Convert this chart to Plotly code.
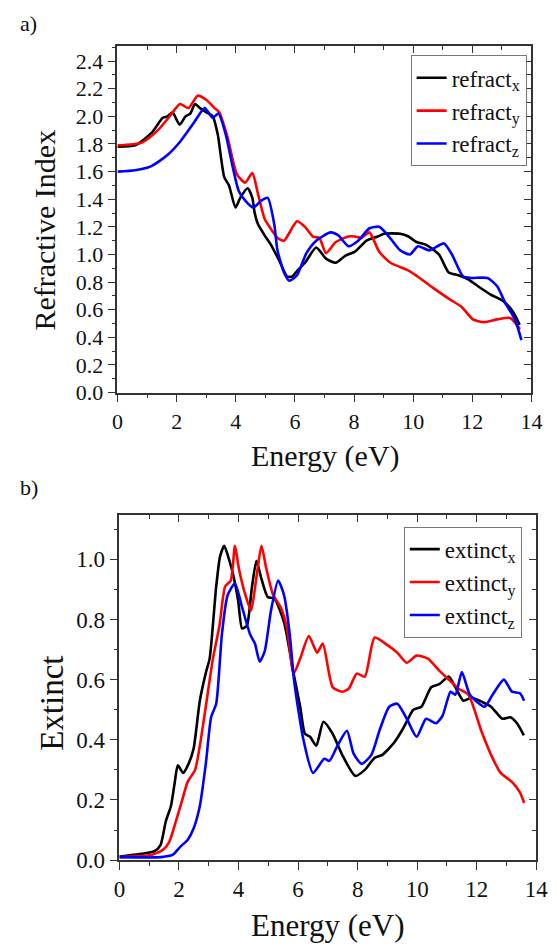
import plotly.graph_objects as go

# ---------------- data: refractive index (panel a) ----------------
refract_x_E = [0, 0.6, 1.15, 1.53, 1.69, 1.86, 2.10, 2.30, 2.46, 2.62, 2.79, 3.0, 3.22, 3.39, 3.61, 3.77,
               3.99, 4.15, 4.40, 4.56, 4.64, 4.75, 4.97, 5.19, 5.46, 5.74, 5.90, 6.07, 6.34, 6.72, 7.05,
               7.38, 7.70, 8.03, 8.42, 8.80, 9.02, 9.56, 9.84, 10.11, 10.44, 10.87, 11.20, 11.53, 11.86,
               12.19, 12.62, 13.06, 13.39, 13.6]
refract_x_val = [1.78, 1.79, 1.88, 1.99, 2.00, 2.03, 1.94, 2.00, 2.02, 2.09, 2.06, 2.03, 2.00, 1.87, 1.56, 1.50,
                 1.34, 1.41, 1.48, 1.41, 1.30, 1.22, 1.14, 1.07, 0.96, 0.84, 0.84, 0.88, 0.94, 1.05, 0.97,
                 0.94, 0.99, 1.02, 1.10, 1.13, 1.15, 1.15, 1.13, 1.09, 1.07, 1.00, 0.87, 0.85, 0.82,
                 0.77, 0.71, 0.66, 0.58, 0.49]

refract_y_E = [0, 0.82, 1.37, 1.80, 2.11, 2.40, 2.71, 3.0, 3.28, 3.44, 3.72, 4.04, 4.32, 4.56, 4.75, 4.97,
               5.08, 5.41, 5.63, 6.07, 6.34, 6.61, 6.83, 7.05, 7.38, 7.81, 8.03, 8.25, 8.52, 8.85, 9.23,
               9.78, 10.22, 10.66, 11.20, 11.64, 12.02, 12.40, 12.84, 13.28, 13.61]
refract_y_val = [1.79, 1.81, 1.90, 2.01, 2.09, 2.06, 2.15, 2.12, 2.06, 2.03, 1.85, 1.58, 1.52, 1.59, 1.44, 1.26,
                 1.22, 1.12, 1.10, 1.24, 1.20, 1.13, 1.12, 1.01, 1.09, 1.13, 1.13, 1.12, 1.16, 1.02, 0.94,
                 0.89, 0.83, 0.76, 0.68, 0.62, 0.53, 0.51, 0.53, 0.54, 0.46]

refract_z_E = [0, 0.6, 1.15, 1.69, 2.13, 2.57, 2.95, 3.22, 3.41, 3.66, 3.88, 4.10, 4.32, 4.59, 4.86, 5.08,
               5.30, 5.41, 5.63, 5.81, 6.07, 6.39, 6.72, 7.21, 7.46, 7.81, 8.14, 8.52, 8.85, 9.18, 9.56,
               9.89, 10.16, 10.55, 11.04, 11.31, 11.69, 11.97, 12.51, 12.84, 13.11, 13.44, 13.66]
refract_z_val = [1.60, 1.61, 1.64, 1.72, 1.82, 1.95, 2.06, 1.99, 2.02, 1.87, 1.65, 1.46, 1.39, 1.34, 1.39, 1.41,
                 1.22, 1.03, 0.87, 0.81, 0.85, 1.01, 1.10, 1.16, 1.14, 1.06, 1.10, 1.19, 1.20, 1.13, 1.03,
                 1.00, 1.06, 1.03, 1.08, 1.00, 0.84, 0.83, 0.83, 0.77, 0.65, 0.53, 0.38]

# ---------------- data: extinction (panel b) ----------------
extinct_x_E = [0, 0.86, 1.18, 1.38, 1.56, 1.73, 1.86, 1.96, 2.14, 2.32, 2.49, 2.70, 2.92, 3.03, 3.25, 3.38,
               3.52, 3.68, 3.84, 3.99, 4.12, 4.28, 4.44, 4.60, 4.77, 4.98, 5.20, 5.53, 5.85, 6.07, 6.23,
               6.40, 6.61, 6.85, 7.16, 7.48, 7.92, 8.24, 8.57, 8.83, 9.22, 9.54, 9.87, 10.14, 10.47, 10.74,
               11.06, 11.28, 11.55, 11.83, 12.20, 12.48, 12.86, 13.13, 13.35, 13.58]
extinct_x_val = [0.012, 0.023, 0.03, 0.05, 0.13, 0.18, 0.26, 0.315, 0.29, 0.32, 0.37, 0.53, 0.63, 0.67, 0.91, 1.01,
                 1.045, 1.0, 0.94, 0.86, 0.77, 0.78, 0.90, 0.995, 0.935, 0.875, 0.87, 0.79, 0.62, 0.51, 0.42,
                 0.41, 0.38, 0.46, 0.42, 0.35, 0.28, 0.30, 0.34, 0.35, 0.39, 0.44, 0.50, 0.51, 0.575, 0.585,
                 0.61, 0.575, 0.53, 0.54, 0.525, 0.51, 0.47, 0.475, 0.455, 0.415]

extinct_y_E = [0, 1.07, 1.46, 1.67, 1.89, 2.11, 2.29, 2.54, 2.70, 2.87, 3.14, 3.36, 3.55, 3.74, 3.88, 4.01,
               4.22, 4.42, 4.60, 4.77, 4.93, 5.15, 5.42, 5.63, 5.85, 6.07, 6.36, 6.64, 6.83, 7.16, 7.48,
               7.70, 7.97, 8.24, 8.57, 9.0, 9.33, 9.65, 9.98, 10.36, 10.74, 11.06, 11.39, 11.72, 12.15,
               12.48, 12.80, 13.18, 13.45, 13.59]
extinct_y_val = [0.01, 0.017, 0.034, 0.06, 0.127, 0.20, 0.26, 0.30, 0.38, 0.49, 0.67, 0.78, 0.91, 0.93, 1.045, 0.97,
                 0.885, 0.83, 0.94, 1.045, 0.97, 0.885, 0.84, 0.77, 0.62, 0.67, 0.745, 0.69, 0.72, 0.575, 0.56,
                 0.57, 0.62, 0.61, 0.74, 0.715, 0.69, 0.656, 0.68, 0.67, 0.63, 0.60, 0.57, 0.55, 0.43,
                 0.35, 0.29, 0.26, 0.225, 0.19]

extinct_z_E = [0, 1.40, 1.78, 2.05, 2.29, 2.49, 2.70, 2.90, 3.08, 3.25, 3.44, 3.63, 3.88, 4.12, 4.39, 4.55,
               4.71, 4.88, 5.09, 5.33, 5.53, 5.72, 5.85, 5.96, 6.18, 6.50, 6.88, 7.05, 7.32, 7.64, 7.86,
               8.13, 8.46, 8.73, 9.06, 9.33, 9.65, 9.98, 10.30, 10.63, 10.85, 11.12, 11.28, 11.50, 11.77,
               12.26, 12.53, 12.91, 13.18, 13.45, 13.59]
extinct_z_val = [0.01, 0.01, 0.017, 0.045, 0.067, 0.105, 0.18, 0.32, 0.476, 0.52, 0.75, 0.88, 0.92, 0.84, 0.75, 0.72,
                 0.66, 0.695, 0.83, 0.93, 0.88, 0.75, 0.61, 0.53, 0.40, 0.29, 0.337, 0.33, 0.38, 0.43, 0.355,
                 0.32, 0.35, 0.43, 0.51, 0.52, 0.47, 0.41, 0.47, 0.455, 0.48, 0.56, 0.55, 0.625, 0.55,
                 0.51, 0.55, 0.60, 0.56, 0.555, 0.53]

series_a = [("refract<sub>x</sub>", refract_x_E, refract_x_val, "#000000"),
            ("refract<sub>y</sub>", refract_y_E, refract_y_val, "#ff0000"),
            ("refract<sub>z</sub>", refract_z_E, refract_z_val, "#0000ff")]
series_b = [("extinct<sub>x</sub>", extinct_x_E, extinct_x_val, "#000000"),
            ("extinct<sub>y</sub>", extinct_y_E, extinct_y_val, "#ff0000"),
            ("extinct<sub>z</sub>", extinct_z_E, extinct_z_val, "#0000ff")]

W, H = 558, 952
FONT = "Liberation Serif"

fig = go.Figure()
for name, xs, ys, col in series_a:
    fig.add_trace(go.Scatter(x=xs, y=ys, name=name, mode="lines",
                             line=dict(color=col, width=2.6, shape="spline", smoothing=0.6),
                             xaxis="x", yaxis="y", legend="legend"))
for name, xs, ys, col in series_b:
    fig.add_trace(go.Scatter(x=xs, y=ys, name=name, mode="lines",
                             line=dict(color=col, width=2.6, shape="spline", smoothing=0.6),
                             xaxis="x2", yaxis="y2", legend="legend2"))
# empty traces so the inward mirror-tick axes get drawn
fig.add_trace(go.Scatter(x=[], y=[], xaxis="x3", yaxis="y3", showlegend=False, hoverinfo="skip"))
fig.add_trace(go.Scatter(x=[], y=[], xaxis="x4", yaxis="y4", showlegend=False, hoverinfo="skip"))


def px_x(a, b):
    return [a / W, b / W]


def px_y(top, bottom):
    return [(H - bottom) / H, (H - top) / H]


axis_line = dict(showline=True, linecolor="#333333", linewidth=1.5, mirror=True, showgrid=False, zeroline=False)

xa_dom, ya_dom = px_x(115, 542), px_y(47, 398)
xb_dom, yb_dom = px_x(117, 547), px_y(522, 872)
yr_a = [0, 2.507]
yr_b = [0, 1.148]

fig.update_layout(
    width=W, height=H,
    margin=dict(l=0, r=0, t=0, b=0),
    paper_bgcolor="white", plot_bgcolor="white",
    font=dict(family=FONT, color="#111111"),
    showlegend=True,
    xaxis=dict(domain=xa_dom, anchor="y", range=[0, 14], dtick=2, ticks="outside", ticklen=8, tickwidth=1.3,
               tickcolor="#333333", minor=dict(dtick=1, ticks="outside", ticklen=4, tickcolor="#333333"),
               tickfont=dict(size=22, family=FONT), **axis_line),
    yaxis=dict(domain=ya_dom, anchor="x", range=yr_a, dtick=0.2, tick0=0, tickformat=".1f", ticks="outside",
               ticklen=8, tickwidth=1.3, tickcolor="#333333",
               minor=dict(dtick=0.1, ticks="outside", ticklen=4, tickcolor="#333333"),
               tickfont=dict(size=22, family=FONT), **axis_line),
    xaxis3=dict(overlaying="x", anchor="y3", side="top", range=[0, 14], dtick=2, ticks="inside", ticklen=7,
                tickcolor="#333333", minor=dict(dtick=1, ticks="inside", ticklen=4, tickcolor="#333333"),
                showticklabels=False, showline=False, showgrid=False, zeroline=False),
    yaxis3=dict(overlaying="y", anchor="x3", side="right", range=yr_a, dtick=0.2, ticks="inside", ticklen=7,
                tickcolor="#333333", minor=dict(dtick=0.1, ticks="inside", ticklen=4, tickcolor="#333333"),
                showticklabels=False, showline=False, showgrid=False, zeroline=False),
    xaxis2=dict(domain=xb_dom, anchor="y2", range=[0, 14], dtick=2, ticks="outside", ticklen=8, tickwidth=1.3,
                tickcolor="#333333", minor=dict(dtick=1, ticks="outside", ticklen=4, tickcolor="#333333"),
                tickfont=dict(size=23, family=FONT), **axis_line),
    yaxis2=dict(domain=yb_dom, anchor="x2", range=yr_b, dtick=0.2, tick0=0, tickformat=".1f", ticks="outside",
                ticklen=8, tickwidth=1.3, tickcolor="#333333",
                minor=dict(dtick=0.1, ticks="outside", ticklen=4, tickcolor="#333333"),
                tickfont=dict(size=23, family=FONT), **axis_line),
    xaxis4=dict(overlaying="x2", anchor="y4", side="top", range=[0, 14], dtick=2, ticks="inside", ticklen=7,
                tickcolor="#333333", minor=dict(dtick=1, ticks="inside", ticklen=4, tickcolor="#333333"),
                showticklabels=False, showline=False, showgrid=False, zeroline=False),
    yaxis4=dict(overlaying="y2", anchor="x4", side="right", range=yr_b, dtick=0.2, ticks="inside", ticklen=7,
                tickcolor="#333333", minor=dict(dtick=0.1, ticks="inside", ticklen=4, tickcolor="#333333"),
                showticklabels=False, showline=False, showgrid=False, zeroline=False),
    legend=dict(x=537 / W, xanchor="right", y=(H - 56) / H, yanchor="top", bgcolor="white",
                bordercolor="#777777", borderwidth=1, font=dict(size=23, family=FONT, color="#111111"),
                itemwidth=30, tracegroupgap=0),
    legend2=dict(x=532 / W, xanchor="right", y=(H - 534) / H, yanchor="top", bgcolor="white",
                 bordercolor="#777777", borderwidth=1, font=dict(size=23, family=FONT, color="#111111"),
                 itemwidth=30, tracegroupgap=0),
)

ann_font = dict(family=FONT, color="#111111")
annotations = [
    dict(text="a)", x=12 / W, y=(H - 24) / H, xanchor="left", yanchor="middle", font=dict(size=22, **ann_font)),
    dict(text="b)", x=12 / W, y=(H - 494) / H, xanchor="left", yanchor="middle", font=dict(size=22, **ann_font)),
    dict(text="Refractive Index", x=40 / W, y=(H - 233) / H, textangle=-90, xanchor="center", yanchor="middle",
         font=dict(size=30, **ann_font)),
    dict(text="Energy (eV)", x=330 / W, y=(H - 462) / H, xanchor="center", yanchor="middle",
         font=dict(size=30, **ann_font)),
    dict(text="Extinct", x=48 / W, y=(H - 713) / H, textangle=-90, xanchor="center", yanchor="middle",
         font=dict(size=33, **ann_font)),
    dict(text="Energy (eV)", x=332 / W, y=(H - 938) / H, xanchor="center", yanchor="middle",
         font=dict(size=31, **ann_font)),
]
for a in annotations:
    a.update(xref="paper", yref="paper", showarrow=False)
fig.update_layout(annotations=annotations)

fig.write_html(
    "out.html",
    config={"displayModeBar": False},
    post_script="document.body.style.margin='0';document.body.style.padding='0';"
                "document.body.style.overflow='hidden';",
)
